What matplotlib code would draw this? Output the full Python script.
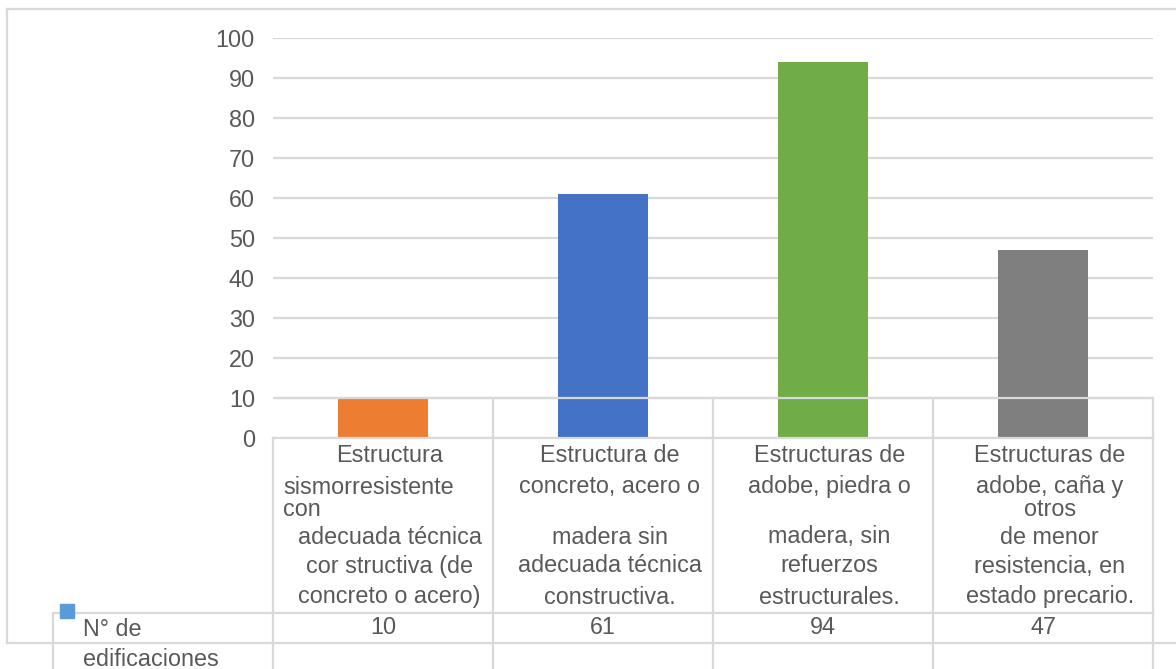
import matplotlib.pyplot as plt
from matplotlib.lines import Line2D
from matplotlib.patches import Rectangle
from matplotlib.transforms import blended_transform_factory

plt.rcParams['font.family'] = ['Liberation Sans', 'DejaVu Sans']

# data
values = [10, 61, 94, 47]
colors = ['#ED7D31', '#4472C4', '#70AD47', '#7F7F7F']
row_name = ['N° de', 'edificaciones']
# category text, one entry per text row of the table cell ('' = empty row)
cat_lines = [
    ['Estructura', 'sismorresistente', 'con', 'adecuada técnica',
     'cor structiva (de', 'concreto o acero)'],
    ['Estructura de', 'concreto, acero o', '', 'madera sin',
     'adecuada técnica', 'constructiva.'],
    ['Estructuras de', 'adobe, piedra o', '', 'madera, sin',
     'refuerzos', 'estructurales.'],
    ['Estructuras de', 'adobe, caña y', 'otros', 'de menor',
     'resistencia, en', 'estado precario.'],
]
yticks = list(range(0, 101, 10))

W, H = 1176, 669
fig = plt.figure(figsize=(W / 100, H / 100), dpi=100)
# plot area in pixels: x 273..1153, y 38..438 from top
ax = fig.add_axes([273 / W, (H - 438) / H, 880 / W, 400 / H])

grid_c = '#D9D9D9'
text_c = '#595959'
fs = 16.8

x = list(range(len(values)))
ax.bar(x, values, width=0.41, color=colors, zorder=2)
ax.set_xlim(-0.5, 3.5)
ax.set_ylim(0, 100)
ax.set_yticks(yticks)
ax.set_xticks([])
ax.tick_params(axis='y', length=0, pad=13, labelsize=fs, labelcolor=text_c)
for s in ax.spines.values():
    s.set_visible(False)
ax.yaxis.grid(True, color=grid_c, lw=1.6, zorder=0)
ax.set_axisbelow(True)
# top edge of the table's first row runs over the bars
ax.axhline(10, xmin=0, xmax=1, color=grid_c, lw=1.6, zorder=3)

# data table below the plot (x in data units, y in axes fraction)
tr = blended_transform_factory(ax.transData, ax.transAxes)
px = lambda p: (438 - p) / 400  # pixel row from top -> axes fraction
bottom = px(H)

def seg(x0, x1, y0, y1):
    ax.add_line(Line2D([x0, x1], [y0, y1], transform=tr, color=grid_c,
                       lw=1.6, clip_on=False, zorder=3))

seg(-0.5, 3.5, 0, 0)
seg(-1.5, 3.5, px(613), px(613))
seg(-1.5, 3.6, px(643), px(643))
seg(-0.5, -0.5, 0, bottom)
seg(-1.5, -1.5, px(613), bottom)
for b in [0.5, 1.5, 2.5, 3.5]:
    seg(b, b, 0.1, bottom)

row_y = [455, 487, 510, 537, 566, 597]
for i, lines in enumerate(cat_lines):
    for j, t in enumerate(lines):
        if not t:
            continue
        if i == 0 and j in (1, 2):
            ax.text(i - 0.455, px(row_y[j]), t, transform=tr, ha='left',
                    va='center', fontsize=fs, color=text_c)
        else:
            ax.text(i + 0.03, px(row_y[j]), t, transform=tr, ha='center',
                    va='center', fontsize=fs, color=text_c)
    ax.text(i, px(628), str(values[i]), transform=tr, ha='center',
            va='center', fontsize=fs, color=text_c)

ax.text(-1.365, px(629), row_name[0], transform=tr, ha='left', va='center',
        fontsize=fs, color=text_c)
ax.text(-1.365, px(659), row_name[1], transform=tr, ha='left', va='center',
        fontsize=fs, color=text_c)

# legend key of the series in the table
fig.add_artist(Rectangle((60 / W, (H - 618) / H), 14 / W, 14 / H,
                         transform=fig.transFigure, color='#5B9BD5', zorder=1))

# chart area border
for xs, ys in [([7, 7], [9, 643]), ([7, W], [9, 9]), ([7, 53], [643, 643])]:
    fig.add_artist(Line2D([v / W for v in xs], [(H - v) / H for v in ys],
                          transform=fig.transFigure, color=grid_c, lw=1.6))

fig.savefig('out.png', dpi=100)
